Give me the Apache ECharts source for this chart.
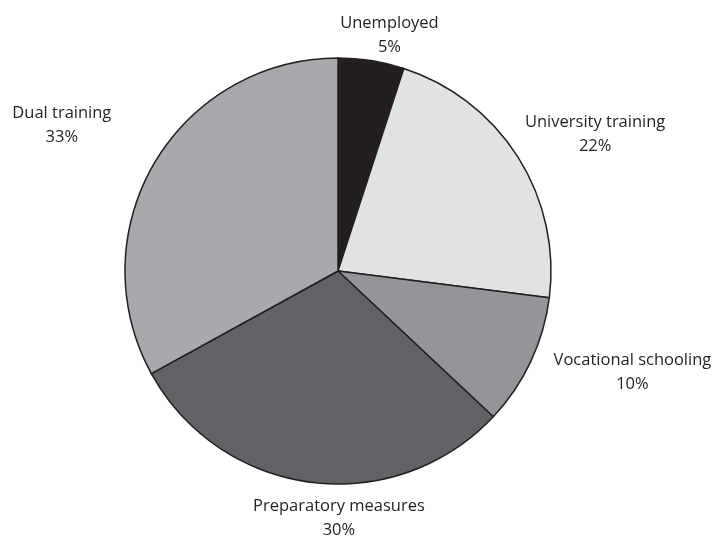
<!DOCTYPE html>
<html><head><meta charset="utf-8">
<script src="https://cdn.jsdelivr.net/npm/echarts@6/dist/echarts.min.js"></script>
<style>html,body{margin:0;padding:0;background:#fff}#c{width:715px;height:541px}</style>
</head><body><div id="c"></div>
<script>
const categories = ["Unemployed", "University training", "Vocational schooling", "Preparatory measures", "Dual training"];
const values = [5, 22, 10, 30, 33];
const colors = ["#231f20", "#e1e2e4", "#939598", "#626366", "#a7a9ac"];

// label nudges (style only), relative to ECharts' outside placement
const labelNudge = [[-38, -13], [-8, -16], [7, 5], [120, 24], [-28, -31]];

const chart = echarts.init(document.getElementById('c'), null, {renderer: 'canvas'});
const data = categories.map((c, i) => ({
  name: c, value: values[i], itemStyle: {color: colors[i]}
}));
chart.setOption({
  animation: false,
  series: [{
    type: 'pie',
    center: [338, 271],
    radius: 213,
    startAngle: 90,
    clockwise: true,
    data: data,
    itemStyle: {borderColor: '#231f20', borderWidth: 1.5},
    label: {
      show: true,
      position: 'outside',
      formatter: p => p.name + '\n' + p.value + '%',
      fontFamily: 'Open Sans',
      fontSize: 16.5,
      lineHeight: 24,
      color: '#231f20'
    },
    labelLine: {show: false, length: 12, length2: 0},
    labelLayout: function (params) {
      const r = params.labelRect;
      const n = labelNudge[params.dataIndex];
      return {x: r.x + r.width / 2 + n[0], y: r.y + r.height / 2 + n[1], align: 'center', verticalAlign: 'middle'};
    },
    emphasis: {disabled: true}
  }]
});
</script></body></html>
